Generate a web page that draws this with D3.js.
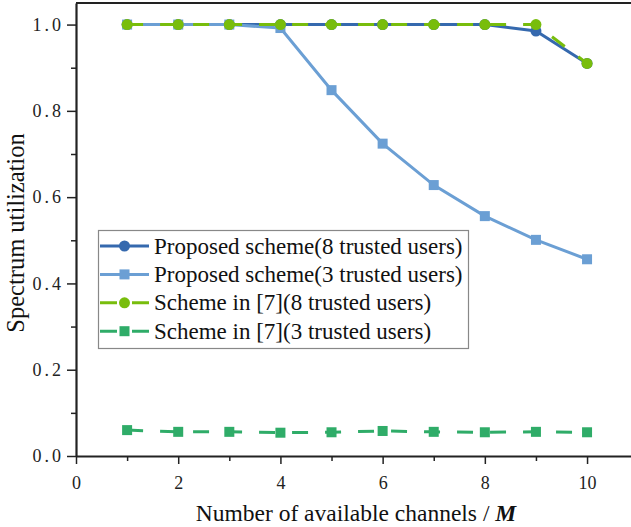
<!DOCTYPE html>
<html>
<head>
<meta charset="utf-8">
<script src="https://cdn.jsdelivr.net/npm/d3@7/dist/d3.min.js"></script>
<style>
  body { margin: 0; background: #fff; }
  svg { display: block; font-family: "Liberation Serif", "Times New Roman", serif; }
</style>
</head>
<body>
<div id="chart"></div>
<script>
// channels M on the x axis
const channels = [1, 2, 3, 4, 5, 6, 7, 8, 9, 10];
const proposed8 = [1, 1, 1, 1, 1, 1, 1, 1, 0.985, 0.91];
const proposed3 = [1, 1, 1, 0.992, 0.848, 0.724, 0.628, 0.556, 0.501, 0.456];
const ref8 = [1, 1, 1, 1, 1, 1, 1, 1, 1, 0.91];
const ref3 = [0.060, 0.056, 0.056, 0.054, 0.055, 0.058, 0.056, 0.055, 0.056, 0.055];
const seriesNames = [
  'Proposed scheme(8 trusted users)',
  'Proposed scheme(3 trusted users)',
  'Scheme in [7](8 trusted users)',
  'Scheme in [7](3 trusted users)'
];
const xTicks = [0, 2, 4, 6, 8, 10];
const xMinor = [1, 3, 5, 7, 9];
const yTicks = [0, 0.2, 0.4, 0.6, 0.8, 1.0];
const yMinor = [0.1, 0.3, 0.5, 0.7, 0.9];

const W = 631, H = 527;
const marg = { left: 76, top: 3, bot: 71 };

const series = [
  { name: seriesNames[0], vals: proposed8, color: '#3569ae', shape: 'circle', dash: null },
  { name: seriesNames[1], vals: proposed3, color: '#6b9fd4', shape: 'square', dash: null },
  { name: seriesNames[2], vals: ref8, color: '#78bd0c', shape: 'circle', dash: '16,17' },
  { name: seriesNames[3], vals: ref3, color: '#2fac68', shape: 'square', dash: '16,17' }
];

const svg = d3.select('#chart').append('svg').attr('width', W).attr('height', H);

const x = d3.scaleLinear().domain([0, 10.86]).range([marg.left, W]);
const y = d3.scaleLinear().domain([0, 1.05]).range([H - marg.bot, marg.top]);

// top frame line
svg.append('line')
  .attr('x1', marg.left).attr('x2', W)
  .attr('y1', y(1.05)).attr('y2', y(1.05))
  .attr('stroke', '#222').attr('stroke-width', 2.2);

// minor ticks
svg.append('g').attr('transform', 'translate(0,' + y(0) + ')')
  .call(d3.axisBottom(x).tickValues(xMinor).tickSize(5).tickFormat('').tickSizeOuter(0))
  .call(g => g.select('.domain').remove())
  .selectAll('line').attr('stroke', '#222').attr('stroke-width', 1.5);
svg.append('g').attr('transform', 'translate(' + marg.left + ',0)')
  .call(d3.axisLeft(y).tickValues(yMinor).tickSize(5).tickFormat('').tickSizeOuter(0))
  .call(g => g.select('.domain').remove())
  .selectAll('line').attr('stroke', '#222').attr('stroke-width', 1.5);

// main axes
const xAxis = svg.append('g').attr('transform', 'translate(0,' + y(0) + ')')
  .call(d3.axisBottom(x).tickValues(xTicks).tickSize(8).tickSizeOuter(0).tickPadding(12));
const yAxis = svg.append('g').attr('transform', 'translate(' + marg.left + ',0)')
  .call(d3.axisLeft(y).tickValues(yTicks).tickSize(9).tickSizeOuter(0).tickPadding(6).tickFormat(d3.format('.1f')));

[xAxis, yAxis].forEach(g => {
  g.select('.domain').attr('stroke', '#222').attr('stroke-width', 2.2);
  g.selectAll('.tick line').attr('stroke', '#222').attr('stroke-width', 1.5);
  g.selectAll('.tick text').attr('fill', '#222').style('font-size', '18px')
    .style('font-family', '"Liberation Serif", serif');
});
yAxis.selectAll('.tick text').style('letter-spacing', '3px').attr('dx', '3px');

// lines and markers
const line = d3.line().x((d, i) => x(channels[i])).y(d => y(d));

series.forEach(s => {
  svg.append('path')
    .datum(s.vals)
    .attr('d', line)
    .attr('fill', 'none')
    .attr('stroke', s.color)
    .attr('stroke-width', 3)
    .attr('stroke-dasharray', s.dash);

  let mk = svg.append('g').selectAll('.mk').data(s.vals).enter();
  if (s.shape == 'circle') {
    mk.append('circle')
      .attr('cx', (d, i) => x(channels[i]))
      .attr('cy', d => y(d))
      .attr('r', 5.5)
      .attr('fill', s.color);
  } else {
    mk.append('rect')
      .attr('x', (d, i) => x(channels[i]) - 5)
      .attr('y', d => y(d) - 5)
      .attr('width', 10)
      .attr('height', 10)
      .attr('fill', s.color);
  }
});

// legend
const leg = svg.append('g').attr('transform', 'translate(98,230)');
leg.append('rect')
  .attr('x', 0.5).attr('y', 0.5)
  .attr('width', 370).attr('height', 118)
  .attr('fill', '#fff').attr('stroke', '#888').attr('stroke-width', 1.2);

let legRow = leg.selectAll('.row').data(series).enter().append('g')
  .attr('transform', (d, i) => 'translate(0,' + (16 + i * 28.4) + ')');

legRow.append('line')
  .attr('x1', 2).attr('x2', 51).attr('y1', 0).attr('y2', 0)
  .attr('stroke', d => d.color).attr('stroke-width', 3)
  .attr('stroke-dasharray', d => d.dash ? '17,15' : null);

legRow.each(function (d) {
  let r = d3.select(this);
  if (d.shape == 'circle') {
    r.append('circle').attr('cx', 26.5).attr('cy', 0).attr('r', 5.5).attr('fill', d.color);
  } else {
    r.append('rect').attr('x', 21.5).attr('y', -5).attr('width', 10).attr('height', 10).attr('fill', d.color);
  }
});

legRow.append('text')
  .attr('x', 56).attr('y', 7.5)
  .attr('fill', '#111')
  .style('font-size', '23px')
  .text(d => d.name);

// axis titles
svg.append('text')
  .attr('transform', 'translate(24,' + 233 + ') rotate(-90)')
  .attr('text-anchor', 'middle')
  .attr('fill', '#111')
  .style('font-size', '24.5px')
  .text('Spectrum utilization');

let xt = svg.append('text')
  .attr('x', 356).attr('y', 521)
  .attr('text-anchor', 'middle')
  .attr('fill', '#111')
  .style('font-size', '23.5px');
xt.append('tspan').text('Number of available channels / ');
xt.append('tspan').attr('font-weight', 'bold').attr('font-style', 'italic').text('M');
</script>
</body>
</html>
